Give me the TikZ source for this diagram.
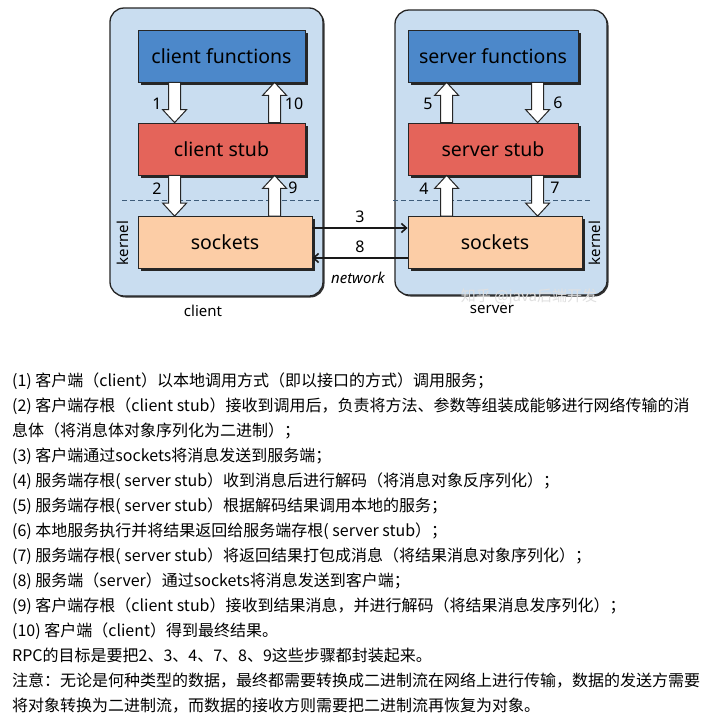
\documentclass[tikz,border=0pt]{standalone}
\usepackage{fontspec}
\setmainfont{Noto Sans}
\newfontfamily\cjk{Noto Sans CJK SC}
\usetikzlibrary{calc,positioning,shadows,arrows.meta}

\definecolor{panelblue}{RGB}{201,221,240}
\definecolor{funcblue}{RGB}{76,136,202}
\definecolor{stubred}{RGB}{228,100,90}
\definecolor{sockpeach}{RGB}{252,205,166}
\definecolor{dashblue}{RGB}{62,92,122}

\tikzset{
  panel/.style={draw=black!85, line width=1.3pt, fill=panelblue, rounded corners=14pt,
    drop shadow={shadow xshift=1.5pt, shadow yshift=-1.5pt, fill=black!80, opacity=1}},
  box/.style={draw=black!85, line width=0.8pt, minimum height=52pt,
    font=\fontsize{19.5}{22}\selectfont,
    drop shadow={shadow xshift=2.5pt, shadow yshift=-2.5pt, fill=black!85, opacity=1}},
  funcbox/.style={box, fill=funcblue},
  stubbox/.style={box, fill=stubred},
  sockbox/.style={box, fill=sockpeach, minimum width=174pt},
  hollow/.style={draw=black!85, line width=1pt, fill=white},
  numlbl/.style={font=\fontsize{16}{18}\selectfont},
  netarr/.style={draw=black!90, line width=1.6pt, -{Straight Barb[length=5pt,width=9pt]}},
  kernlbl/.style={rotate=90, font=\fontsize{15}{18}\selectfont},
  sep/.style={dashblue, line width=1pt, dash pattern=on 5pt off 3pt}
}

% hollow block arrow from #1 to #2 (vertical)
\newcommand{\hollowarrow}[2]{%
  \draw[hollow] let \p1=(#1), \p2=(#2), \n1={sign(\y1-\y2)} in
    (\x1-6pt,\y1) -- (\x1-6pt,{\y2+\n1*13pt}) -- (\x1-12pt,{\y2+\n1*13pt}) -- (\x1,\y2)
    -- (\x1+12pt,{\y2+\n1*13pt}) -- (\x1+6pt,{\y2+\n1*13pt}) -- (\x1+6pt,\y1) -- cycle;}

\begin{document}
\begin{tikzpicture}[x=1pt,y=-1pt]
  \fill[white] (0,0) rectangle (711,726);
  \useasboundingbox (0,0) rectangle (711,726);

  % the two machines
  \node[panel, minimum width=213pt, minimum height=288pt] (cpanel) at (216.5,152) {};
  \node[panel, minimum width=212pt, minimum height=285pt] (spanel) at (501,152.5) {};

  \draw[sep] (122,200) -- (320,200);
  \draw[sep] (393,200) -- (592,200);

  % client side
  \node[funcbox, minimum width=167pt] (cfunc) at (221.5,56) {client functions};
  \node[stubbox, minimum width=167pt] (cstub) at (221.5,149) {client stub};
  \node[sockbox] (csock) at (225,242.5) {sockets};

  % server side
  \node[funcbox, minimum width=170pt] (sfunc) at (493,56) {server functions};
  \node[stubbox, minimum width=170pt] (sstub) at (493,149) {server stub};
  \node[sockbox] (ssock) at (495,242.5) {sockets};

  \hollowarrow{[xshift=37pt]cfunc.south west}{[xshift=37pt]cstub.north west}
  \hollowarrow{[xshift=137pt]cstub.north west}{[xshift=137pt]cfunc.south west}
  \hollowarrow{[xshift=37pt]cstub.south west}{[xshift=37pt]csock.north west}
  \hollowarrow{[xshift=137pt]csock.north west}{[xshift=137pt]cstub.south west}

  \hollowarrow{[xshift=39pt]sstub.north west}{[xshift=39pt]sfunc.south west}
  \hollowarrow{[xshift=130pt]sfunc.south west}{[xshift=130pt]sstub.north west}
  \hollowarrow{[xshift=39pt]ssock.north west}{[xshift=39pt]sstub.south west}
  \hollowarrow{[xshift=130pt]sstub.south west}{[xshift=130pt]ssock.north west}

  \node[numlbl] (n1) at (157,104) {1};
  \node[numlbl] (n10) at (294,104) {10};
  \node[numlbl] (n2) at (157,189) {2};
  \node[numlbl] (n9) at (293,188) {9};
  \node[numlbl] (n5) at (428,104) {5};
  \node[numlbl] (n6) at (558,103) {6};
  \node[numlbl] (n4) at (424,189) {4};
  \node[numlbl] (n7) at (555,188) {7};

  % network
  \draw[netarr] ([yshift=14.5pt]csock.east) -- node[numlbl, above=1pt] (n3) {3} ([yshift=14.5pt]ssock.west);
  \draw[netarr] ([yshift=-15.5pt]ssock.west) -- node[numlbl, above=1pt] (n8) {8} ([yshift=-15.5pt]csock.east);
  \node[font=\itshape\fontsize{15}{18}\selectfont] (net) at (358,278) {network};

  \node[kernlbl] (ckern) at (123,243) {kernel};
  \node[kernlbl] (skern) at (595,243) {kernel};
  \node[font=\fontsize{15}{18}\selectfont] (clbl) at (203,311) {client};
  \node[font=\fontsize{15}{18}\selectfont] (slbl) at (492,309) {server};
  \node[text=black!12, font=\cjk\fontsize{15}{18}\selectfont] (mark) at (529,297) {知乎 @java后端开发};

  % notes
  \node[anchor=north west, align=left, inner sep=0pt, font=\cjk\fontsize{16}{25}\selectfont] (notes) at (12,373) {%
(1) 客户端（client）以本地调用方式（即以接口的方式）调用服务；\\
(2) 客户端存根（client stub）接收到调用后，负责将方法、参数等组装成能够进行网络传输的消\\
息体（将消息体对象序列化为二进制）；\\
(3) 客户端通过sockets将消息发送到服务端；\\
(4) 服务端存根( server stub）收到消息后进行解码（将消息对象反序列化）；\\
(5) 服务端存根( server stub）根据解码结果调用本地的服务；\\
(6) 本地服务执行并将结果返回给服务端存根( server stub）；\\
(7) 服务端存根( server stub）将返回结果打包成消息（将结果消息对象序列化）；\\
(8) 服务端（server）通过sockets将消息发送到客户端；\\
(9) 客户端存根（client stub）接收到结果消息，并进行解码（将结果消息发序列化）；\\
(10) 客户端（client）得到最终结果。\\
RPC的目标是要把2、3、4、7、8、9这些步骤都封装起来。\\
注意：无论是何种类型的数据，最终都需要转换成二进制流在网络上进行传输，数据的发送方需要\\
将对象转换为二进制流，而数据的接收方则需要把二进制流再恢复为对象。};
\end{tikzpicture}
\end{document}
